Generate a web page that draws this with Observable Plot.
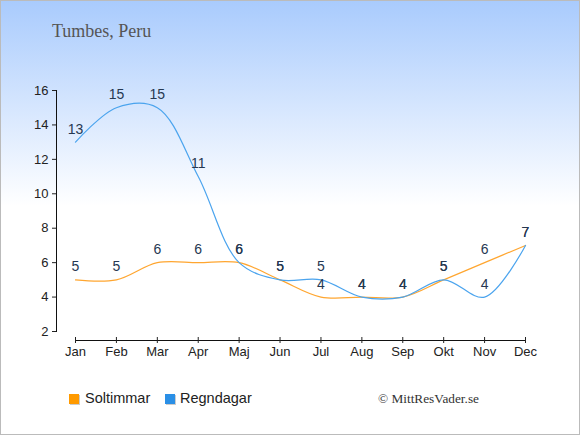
<!DOCTYPE html>
<html><head><meta charset="utf-8">
<script src="https://cdn.jsdelivr.net/npm/d3@7"></script>
<script src="https://cdn.jsdelivr.net/npm/@observablehq/plot@0.6"></script>
<style>
html,body{margin:0;padding:0;}
#wrap{position:relative;width:580px;height:435px;box-sizing:border-box;border:1px solid #bbb;
background:linear-gradient(to bottom,#a9cbfd 0px,#ffffff 205px,#ffffff 435px);overflow:hidden;font-family:"Liberation Sans",Arial,sans-serif;}
#title{position:absolute;left:51px;top:20px;font-family:"Liberation Serif",serif;font-size:18px;color:#555;}
#chart{position:absolute;left:-1px;top:-1px;width:580px;}
.leg{position:absolute;top:389px;font-size:14.5px;color:#222;}
.sw{position:absolute;top:393px;width:10px;height:10px;box-shadow:1px 1px 0 #ccc;}
#credit{position:absolute;left:377px;top:390px;font-family:"Liberation Serif",serif;font-size:13.3px;color:#333;}
</style></head>
<body>
<div id="wrap">
<div id="title">Tumbes, Peru</div>
<div id="chart"></div>
<div class="sw" style="left:68px;background:#ff9a00"></div>
<div class="leg" style="left:84px">Soltimmar</div>
<div class="sw" style="left:164px;background:#2a8fe6"></div>
<div class="leg" style="left:179px">Regndagar</div>
<div id="credit">© MittResVader.se</div>
</div>
<script>
const months = ["Jan","Feb","Mar","Apr","Maj","Jun","Jul","Aug","Sep","Okt","Nov","Dec"];
const soltimmar = [5,5,6,6,6,5,4,4,4,5,6,7];
const regndagar = [13,15,15,11,6,5,5,4,4,5,4,7];
const yTicks = [2,4,6,8,10,12,14,16];

const sol = months.map((m,i)=>({month:m,value:soltimmar[i]}));
const reg = months.map((m,i)=>({month:m,value:regndagar[i]}));

const plot = Plot.plot({
  width: 580, height: 366,
  marginLeft: 56, marginRight: 55, marginTop: 90, marginBottom: 35,
  style: {background: "transparent", fontFamily: "'Liberation Sans', Arial, sans-serif"},
  x: {type: "point", domain: months, padding: 0, round: false, insetLeft: 19},
  y: {domain: [2,16]},
  marks: [
    Plot.frame({anchor: "left", stroke: "#111"}),
    Plot.ruleY([2], {x1: () => months[0], x2: () => months[months.length-1], dy: 9, stroke: "#111"}),
    Plot.axisY({ticks: yTicks, tickSize: 4, tickPadding: 4, fontSize: 13, color: "#222", label: null}),
    Plot.axisX({tickSize: 6, dy: 6, tickPadding: 3, fontSize: 13, color: "#222", label: null}),
    Plot.line(sol, {x: "month", y: "value", stroke: "#ffa630", strokeWidth: 1.2, curve: "catmull-rom"}),
    Plot.line(reg, {x: "month", y: "value", stroke: "#4ba4ee", strokeWidth: 1.2, curve: "catmull-rom"}),
    Plot.text(sol, {x: "month", y: "value", text: d => String(d.value), dy: -13, fontSize: 14, fill: "#263852"}),
    Plot.text(reg, {x: "month", y: "value", text: d => String(d.value), dy: -13, fontSize: 14, fill: "#263852"})
  ]
});
document.getElementById("chart").appendChild(plot);
</script>
</body></html>
